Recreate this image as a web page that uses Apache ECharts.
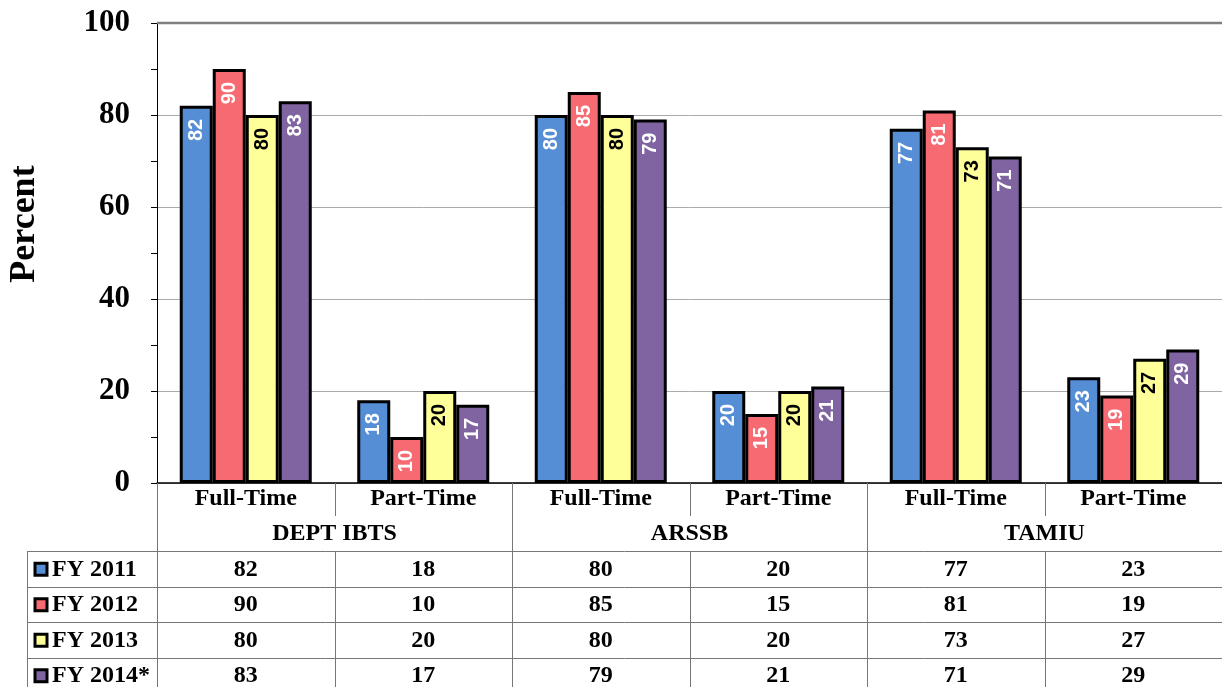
<!DOCTYPE html>
<html>
<head>
<meta charset="utf-8">
<script src="https://cdn.jsdelivr.net/npm/echarts@6/dist/echarts.min.js"></script>
<style>
html,body{margin:0;padding:0;background:#fff;}
#c{width:1222px;height:687px;}
</style>
</head>
<body>
<div id="c"></div>
<script>
var categories = ['Full-Time','Part-Time','Full-Time','Part-Time','Full-Time','Part-Time'];
var groups = ['DEPT IBTS','ARSSB','TAMIU'];
var seriesNames = ['FY 2011','FY 2012','FY 2013','FY 2014*'];
var fy2011 = [82,18,80,20,77,23];
var fy2012 = [90,10,85,15,81,19];
var fy2013 = [80,20,80,20,73,27];
var fy2014 = [83,17,79,21,71,29];
var yTitle = 'Percent';
var colors = ['#558ED5','#F76A72','#FFFF99','#8064A2'];
var labelColors = ['#ffffff','#ffffff','#000000','#ffffff'];
var allData = [fy2011, fy2012, fy2013, fy2014];

var serif = '"Liberation Serif","Times New Roman",serif';
var sans = '"Liberation Sans",Arial,sans-serif';

var chart = echarts.init(document.getElementById('c'));
var series = allData.map(function(d,i){
  return {
    name: seriesNames[i], type:'bar', data:d, barWidth:33, barGap:'0%',
    itemStyle:{color:colors[i], borderColor:'#000', borderWidth:3},
    label:{show:true, position:'insideTop', rotate:90, align:'right', verticalAlign:'middle',
      distance:13, color:labelColors[i], fontFamily:sans, fontWeight:'bold', fontSize:20},
    z:3
  };
});
chart.setOption({
  animation:false,
  grid:{left:157, right:0, top:23, bottom:204, containLabel:false, outerBoundsMode:'none'},
  xAxis:{type:'category', data:categories,
    axisLine:{show:true, lineStyle:{color:'#000', width:1.5}},
    axisTick:{show:false},
    axisLabel:{fontFamily:serif, fontWeight:'bold', fontSize:24, color:'#000', margin:4}
  },
  yAxis:{type:'value', min:0, max:100, interval:20,
    axisLine:{show:true, lineStyle:{color:'#000', width:1}},
    axisTick:{show:true, length:6, lineStyle:{color:'#000'}},
    minorTick:{show:true, splitNumber:2, length:6, lineStyle:{color:'#000'}},
    splitLine:{show:true, lineStyle:{color:['#aaaaaa','#aaaaaa','#aaaaaa','#aaaaaa','#aaaaaa','#808080'], width:1}},
    axisLabel:{fontFamily:serif, fontWeight:'bold', fontSize:31, color:'#000', margin:27}
  },
  series: series
});

var c0 = chart.convertToPixel({xAxisIndex:0}, 0);
var c1 = chart.convertToPixel({xAxisIndex:0}, 1);
var bw = c1 - c0;
var y0 = chart.convertToPixel({yAxisIndex:0}, 0);
var y100 = chart.convertToPixel({yAxisIndex:0}, 100);
var left = c0 - bw/2;
var right = left + bw*categories.length;
var tableTop = y0 + 68;
var rowH = 35.5;
var legendLeft = 27;
var g = [];
function line(x1,y1,x2,y2,color,w){
  g.push({type:'line', shape:{x1:x1,y1:y1,x2:x2,y2:y2}, style:{stroke:color||'#777', lineWidth:w||1}, silent:true, z:10});
}
line(left, y100, right, y100, '#808080', 2.5);
for (var i=0;i<categories.length;i++){
  var x = Math.round(left + bw*i)+0.5;
  if (i%2===0){
    line(x, y0, x, 687, '#777', 1);
  } else {
    line(x, y0, x, y0+33, '#777', 1);
    line(x, tableTop, x, 687, '#777', 1);
  }
}
line(legendLeft+0.5, tableTop, legendLeft+0.5, 687, '#777', 1);
for (var r=0;r<4;r++){
  var yy = Math.round(tableTop + rowH*r)+0.5;
  line(legendLeft, yy, right, yy, '#777', 1);
}
// y axis title
g.push({type:'text', x:25, y:224, rotation:Math.PI/2, style:{text:yTitle, font:'bold 36px '+serif, fill:'#000', textAlign:'center', textVerticalAlign:'middle'}, z:10});
groups.forEach(function(name,gi){
  g.push({type:'text', x: left + bw*(gi*2+1), y: y0+51, style:{text:name, font:'bold 24px '+serif, fill:'#000', textAlign:'center', textVerticalAlign:'middle'}, z:10});
});
allData.forEach(function(d,si){
  var cy = tableTop + rowH*si + rowH/2 + 1;
  g.push({type:'rect', shape:{x:35, y:cy-6.5, width:12, height:12}, style:{fill:colors[si], stroke:'#000', lineWidth:3}, z:10});
  g.push({type:'text', x:52, y:cy, style:{text:seriesNames[si], font:'bold 24px '+serif, fill:'#000', textAlign:'left', textVerticalAlign:'middle'}, z:10});
  d.forEach(function(v,ci){
    g.push({type:'text', x: chart.convertToPixel({xAxisIndex:0}, ci), y:cy, style:{text:String(v), font:'bold 24px '+serif, fill:'#000', textAlign:'center', textVerticalAlign:'middle'}, z:10});
  });
});
chart.setOption({graphic:g});
</script>
</body>
</html>
